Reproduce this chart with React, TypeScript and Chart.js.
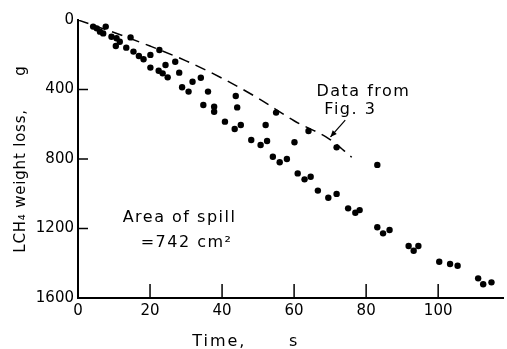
import React, { useEffect, useRef } from 'react';
import { Chart, registerables } from 'chart.js';

Chart.register(...registerables);

// Measured LCH4 weight loss (spill area 742 cm2)
const spillTimeS = [
  4.2, 5.2, 6.1, 7.0, 7.7, 9.3, 10.7, 10.5, 11.6, 13.4, 14.6, 15.4, 16.9, 18.2, 20.1, 20.1,
  22.6, 22.4, 24.3, 23.5, 24.9, 27.0, 28.1, 28.9, 30.7, 31.8, 34.1, 36.1, 34.8, 37.8, 37.8,
  43.8, 44.2, 40.8, 43.5, 45.2, 52.1, 48.1, 50.7, 52.5, 55.0, 54.1, 56.0, 58.0, 60.1, 61.0,
  62.9, 64.6, 64.0, 66.6, 69.5, 71.8, 71.8, 75.0, 77.0, 78.2,
  83.1, 83.1, 84.7, 86.5, 91.8, 93.2, 94.5, 100.3, 103.3, 105.4, 111.1, 112.5, 114.8,
];
const spillLossG = [
  38, 48, 67, 77, 38, 96, 105, 150, 125, 159, 100, 182, 207, 226, 201, 274,
  173, 292, 259, 307, 330, 240, 303, 387, 412, 355, 332, 412, 489, 499, 528,
  437, 503, 585, 627, 604, 604, 691, 719, 696, 533, 787, 819, 800, 704, 883,
  917, 902, 639, 982, 1023, 1001, 733, 1084, 1109, 1094,
  834, 1193, 1228, 1209, 1301, 1328, 1301, 1391, 1404, 1414, 1487, 1521, 1510,
];

// Dashed curve: data from Fig. 3
const fig3TimeS = [0, 10, 20, 30, 40, 50, 60, 70, 76];
const fig3LossG = [0, 72, 150, 235, 335, 450, 580, 688, 790];

const xTickValues = [0, 20, 40, 60, 80, 100];
const yTickValues = [0, 400, 800, 1200, 1600];
const xInnerTicks = [20, 40, 60, 80, 100];
const yInnerTicks = [400, 800, 1200];
const X_MAX = 118;
const Y_MAX = 1600;

const xTitle = 'Time,      s';
const yTitle = 'LCH\u2084 weight loss,      g';
const spillLine1 = 'Area of spill';
const spillLine2 = '=742 cm\u00B2';
const fig3Line1 = 'Data from';
const fig3Line2 = 'Fig. 3';

const FONT = '"DejaVu Sans", "Liberation Sans", sans-serif';

export default function App() {
  const ref = useRef<HTMLCanvasElement>(null);

  useEffect(() => {
    const canvas = ref.current;
    if (!canvas) return;

    const annot = {
      id: 'annot',
      afterDraw(chart: any) {
        const { ctx } = chart;
        const x = chart.scales.x;
        const y = chart.scales.y;
        ctx.save();
        ctx.strokeStyle = '#000';
        ctx.fillStyle = '#000';
        ctx.lineWidth = 1.5;
        ctx.setLineDash([]);
        // inner tick marks
        for (const v of yInnerTicks) {
          const py = y.getPixelForValue(v);
          ctx.beginPath();
          ctx.moveTo(x.left, py);
          ctx.lineTo(x.left + 10, py);
          ctx.stroke();
        }
        for (const v of xInnerTicks) {
          const px = x.getPixelForValue(v);
          ctx.beginPath();
          ctx.moveTo(px, y.bottom);
          ctx.lineTo(px, y.bottom - 14);
          ctx.stroke();
        }
        // annotation texts
        ctx.font = `16px ${FONT}`;
        (ctx as any).letterSpacing = '1.5px';
        ctx.textBaseline = 'middle';
        ctx.textAlign = 'left';
        ctx.fillText(spillLine1, x.getPixelForValue(12.4), y.getPixelForValue(1140));
        ctx.fillText(spillLine2, x.getPixelForValue(17.4), y.getPixelForValue(1283));
        ctx.fillText(fig3Line1, x.getPixelForValue(66.2), y.getPixelForValue(414));
        ctx.fillText(fig3Line2, x.getPixelForValue(68.4), y.getPixelForValue(518));
        // x title
        (ctx as any).letterSpacing = '2px';
        ctx.fillText(xTitle, x.getPixelForValue(31.7), chart.height - 7);
        // y title
        ctx.save();
        ctx.font = `15px ${FONT}`;
        (ctx as any).letterSpacing = '0.8px';
        ctx.translate(21, (y.top + y.bottom) / 2);
        ctx.rotate(-Math.PI / 2);
        ctx.textAlign = 'center';
        ctx.fillText(yTitle, 0, 0);
        ctx.restore();
        // arrow
        const ax0 = x.getPixelForValue(74.2);
        const ay0 = y.getPixelForValue(576);
        const ax1 = x.getPixelForValue(70.1);
        const ay1 = y.getPixelForValue(673);
        ctx.lineWidth = 1.2;
        ctx.beginPath();
        ctx.moveTo(ax0, ay0);
        ctx.lineTo(ax1, ay1);
        ctx.stroke();
        const ang = Math.atan2(ay1 - ay0, ax1 - ax0);
        const hl = 7;
        const hw = 0.4;
        ctx.beginPath();
        ctx.moveTo(ax1, ay1);
        ctx.lineTo(ax1 - hl * Math.cos(ang - hw), ay1 - hl * Math.sin(ang - hw));
        ctx.lineTo(ax1 - hl * Math.cos(ang + hw), ay1 - hl * Math.sin(ang + hw));
        ctx.closePath();
        ctx.fill();
        ctx.restore();
      },
    };

    const chart = new Chart(canvas, {
      type: 'scatter',
      data: {
        datasets: [
          {
            label: 'Measured',
            data: spillTimeS.map((t, i) => ({ x: t, y: spillLossG[i] })),
            backgroundColor: '#000',
            borderColor: '#000',
            pointRadius: 3.2,
            pointBorderWidth: 0,
            showLine: false,
          },
          {
            label: 'Data from Fig. 3',
            data: fig3TimeS.map((t, i) => ({ x: t, y: fig3LossG[i] })),
            borderColor: '#000',
            backgroundColor: '#000',
            borderWidth: 1.5,
            borderDash: [11, 7],
            pointRadius: 0,
            showLine: true,
            cubicInterpolationMode: 'monotone',
            fill: false,
          } as any,
        ],
      },
      options: {
        responsive: false,
        animation: false,
        events: [],
        layout: { padding: { top: 20, right: 0, left: 0, bottom: 0 } },
        plugins: { legend: { display: false }, tooltip: { enabled: false } },
        scales: {
          x: {
            type: 'linear',
            position: 'bottom',
            min: 0,
            max: X_MAX,
            afterBuildTicks: (s: any) => {
              s.ticks = xTickValues.map((v) => ({ value: v }));
            },
            afterFit: (s: any) => {
              s.height = 51;
            },
            grid: { display: false, drawTicks: false },
            border: { display: true, color: '#000', width: 2 },
            ticks: {
              color: '#000',
              font: { family: FONT, size: 15 },
              padding: 4,
              maxRotation: 0,
              autoSkip: false,
              callback: (v: any) => String(v),
            },
          },
          y: {
            type: 'linear',
            reverse: true,
            min: 0,
            max: Y_MAX,
            afterBuildTicks: (s: any) => {
              s.ticks = yTickValues.map((v) => ({ value: v }));
            },
            afterFit: (s: any) => {
              s.width = 78;
            },
            grid: { display: false, drawTicks: false },
            border: { display: true, color: '#000', width: 2 },
            ticks: {
              color: '#000',
              font: { family: FONT, size: 15 },
              padding: 4,
              autoSkip: false,
              callback: (v: any) => String(v),
            },
          },
        },
      },
      plugins: [annot],
    });

    return () => chart.destroy();
  }, []);

  return (
    <div style={{ position: 'absolute', left: 0, top: 0, width: 507, height: 349, background: '#fff' }}>
      <canvas ref={ref} width={507} height={349} style={{ display: 'block' }} />
    </div>
  );
}
